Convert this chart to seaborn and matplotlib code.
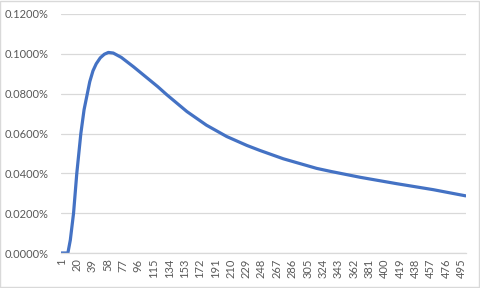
import matplotlib
matplotlib.use("Agg")
import matplotlib.pyplot as plt
import matplotlib.ticker as mticker
from matplotlib.patches import Rectangle
import seaborn as sns
import pandas as pd

# Values (category index -> percent)
categories = [1, 9, 12, 16, 20, 25, 29, 33, 36, 40, 44, 49, 54, 59, 65, 75, 90,
              105, 120, 131, 156, 180, 205, 230, 246, 275, 316, 333, 370, 415, 460, 500]
values_pct = [0.0, 0.0, 0.0065, 0.0200, 0.0400, 0.0600, 0.0720, 0.0800, 0.0860,
              0.0915, 0.0950, 0.0980, 0.0998, 0.1007, 0.1004, 0.0982, 0.0935,
              0.0885, 0.0835, 0.0795, 0.0710, 0.0642, 0.0585, 0.0540, 0.0515,
              0.0473, 0.0425, 0.0410, 0.0380, 0.0348, 0.0318, 0.0287]
x_tick_labels = [1, 20, 39, 58, 77, 96, 115, 134, 153, 172, 191, 210, 229, 248,
                 267, 286, 305, 324, 343, 362, 381, 400, 419, 438, 457, 476, 495]
y_ticks = [0.0, 0.02, 0.04, 0.06, 0.08, 0.10, 0.12]

df = pd.DataFrame({"cat": categories, "pct": values_pct})

sns.set_theme(style="white")
plt.rcParams["font.family"] = ["Lato", "DejaVu Sans"]

fig = plt.figure(figsize=(4.8, 2.88), dpi=100)
ax = fig.add_axes([61 / 480, 1 - 253 / 288, (466 - 61) / 480, (253 - 14) / 288])

sns.lineplot(data=df, x="cat", y="pct", ax=ax, color="#4472C4", linewidth=2.3)

ax.set_xlim(0.5, 500.5)
ax.set_ylim(0, 0.12)
ax.set_yticks(y_ticks)
ax.yaxis.set_major_formatter(mticker.FuncFormatter(lambda v, p: f"{v:.4f}%"))
ax.set_xticks(x_tick_labels)
ax.set_xticklabels([str(v) for v in x_tick_labels], rotation=90)

ax.grid(axis="y", color="#d9d9d9", linewidth=0.9)
ax.grid(axis="x", visible=False)
ax.set_axisbelow(True)
for side in ["top", "right", "left"]:
    ax.spines[side].set_visible(False)
ax.spines["bottom"].set_color("#d9d9d9")
ax.spines["bottom"].set_linewidth(0.9)

ax.tick_params(axis="both", length=0, colors="#595959", labelsize=8)
ax.tick_params(axis="y", pad=9)
ax.tick_params(axis="x", pad=4)
ax.set_xlabel("")
ax.set_ylabel("")

fig.patches.append(Rectangle((0.001, 0.002), 0.997, 0.995, transform=fig.transFigure,
                             fill=False, edgecolor="#d9d9d9", linewidth=1.0))

fig.savefig("out.png", dpi=100)
